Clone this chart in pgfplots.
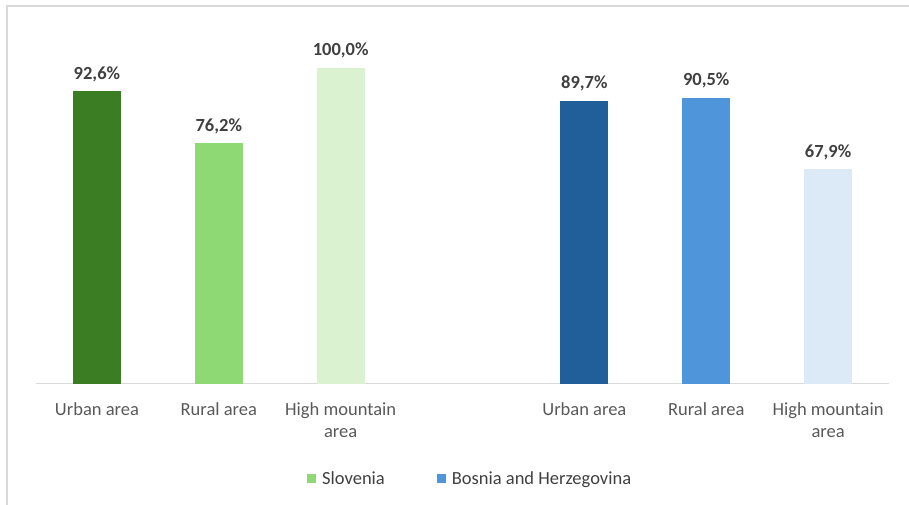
\documentclass[border=0pt]{standalone}
\usepackage{pgfplots}
\pgfplotsset{compat=1.18}
\usepackage{fontspec}
\setmainfont{Carlito}
\definecolor{gA}{HTML}{3B7D23}
\definecolor{gB}{HTML}{8ED973}
\definecolor{gC}{HTML}{DAF2D0}
\definecolor{bA}{HTML}{215F9A}
\definecolor{bB}{HTML}{4E95D9}
\definecolor{bC}{HTML}{DCEAF7}
\definecolor{frame}{HTML}{D9D9D9}
\definecolor{tick}{HTML}{595959}
\definecolor{lab}{HTML}{404040}
\begin{document}
\begin{tikzpicture}[x=1pt,y=1pt]
\path[use as bounding box] (0,0) rectangle (909,505);
\draw[color=frame, line width=2pt] (7,0) -- (7,499) -- (909,499);
\begin{axis}[
  at={(36pt,121pt)}, anchor=south west,
  scale only axis, width=853pt, height=316pt,
  xmin=-0.5, xmax=6.5, ymin=0, ymax=100,
  clip=false,
  axis y line=none,
  axis x line*=bottom,
  x axis line style={-, draw=frame, line width=1pt},
  xtick={0,1,2,4,5,6},
  xticklabels={Urban area, Rural area, {High mountain\\area}, Urban area, Rural area, {High mountain\\area}},
  major tick length=0pt,
  xticklabel style={align=center, font=\fontsize{18.5}{22}\selectfont, text=tick, yshift=-15pt},
  nodes near coords={\pgfmathprintnumber[fixed, fixed zerofill, precision=1, use comma, assume math mode=true]{\pgfplotspointmeta}\%},
  every node near coord/.append style={font=\fontsize{18.5}{22}\selectfont\bfseries, text=lab, yshift=6pt},
  legend style={at={(0.509,-0.3)}, anchor=center, draw=none, fill=none,
    font=\fontsize{18.5}{22}\selectfont, text=lab, legend columns=2,
    /tikz/every odd column/.append style={column sep=4pt},
    /tikz/every even column/.append style={column sep=50pt}},
  legend image code/.code={\fill[#1] (0pt,-4.5pt) rectangle (9pt,4.5pt);},
]
\addlegendimage{fill=gB, draw=none}
\addlegendentry{Slovenia}
\addlegendimage{fill=bB, draw=none}
\addlegendentry{Bosnia and Herzegovina}
\addplot[ybar, bar width=48pt, bar shift=0pt, fill=gA, draw=none, forget plot] coordinates {(0,92.6)};
\addplot[ybar, bar width=48pt, bar shift=0pt, fill=gB, draw=none, forget plot] coordinates {(1,76.2)};
\addplot[ybar, bar width=48pt, bar shift=0pt, fill=gC, draw=none, forget plot] coordinates {(2,100.0)};
\addplot[ybar, bar width=48pt, bar shift=0pt, fill=bA, draw=none, forget plot] coordinates {(4,89.7)};
\addplot[ybar, bar width=48pt, bar shift=0pt, fill=bB, draw=none, forget plot] coordinates {(5,90.5)};
\addplot[ybar, bar width=48pt, bar shift=0pt, fill=bC, draw=none, forget plot] coordinates {(6,67.9)};
\end{axis}
\end{tikzpicture}
\end{document}
